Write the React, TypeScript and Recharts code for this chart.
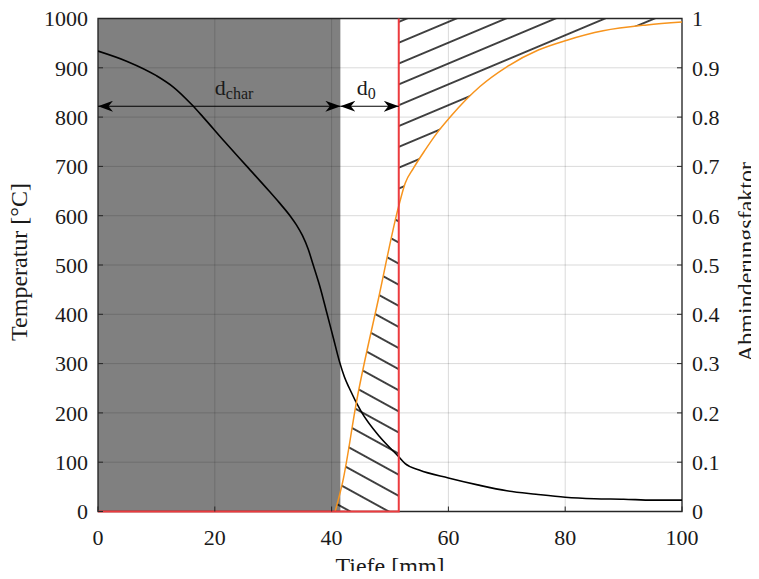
import React from 'react';
import {
  ComposedChart, Line, Area, XAxis, YAxis, CartesianGrid,
  ReferenceArea, ReferenceLine, ReferenceDot,
} from 'recharts';

// Temperature profile (left axis)
const tiefe = [0, 5, 10, 13, 16, 18, 21.7, 25.5, 29.3, 31, 33, 34, 35, 36, 36.8, 38.1, 39.2, 40.3, 41.4, 42.2, 43, 45.1, 48.2, 51.5, 52.6, 55, 60, 65, 70, 75, 80, 85, 90, 95, 100];
const temperatur = [934, 913, 884, 860, 826, 800, 750, 700, 650, 627, 598, 581, 560, 532, 502, 452, 402, 352, 302, 273, 251, 202, 152, 111, 97, 84, 68, 54, 42, 35, 29, 26, 25, 23, 23];

// Abminderungsfaktor (right axis)
const faktorTiefe = [40.6, 41.9, 44.3, 48, 51.5, 52.6, 54, 56, 58, 60.3, 63, 65.4, 70, 75.4, 80.3, 86.5, 94, 100];
const faktor = [0, 0.06, 0.225, 0.43, 0.62, 0.666, 0.696, 0.733, 0.767, 0.8, 0.835, 0.862, 0.902, 0.936, 0.956, 0.975, 0.987, 0.993];

const xTicks = [0, 20, 40, 60, 80, 100];
const tTicks = [0, 100, 200, 300, 400, 500, 600, 700, 800, 900, 1000];
const fTicks = [0, 0.1, 0.2, 0.3, 0.4, 0.5, 0.6, 0.7, 0.8, 0.9, 1];

const dChar = 41.5;
const dEnd = 51.5;
const arrowT = 822;
const labelT = 845;

const tempData = tiefe.map((x, i) => ({ x, t: temperatur[i] }));
const facData = faktorTiefe.map((x, i) => ({ x, f: faktor[i] }));
const hatchLeft = facData.filter(d => d.x <= dEnd);
const hatchRight = facData.filter(d => d.x >= dEnd).map(d => ({ x: d.x, r: [d.f, 1] }));
const redStep = [{ x: 0, f: 0 }, { x: dEnd, f: 0 }, { x: dEnd, f: 1 }];

const font = '"Liberation Serif", "Times New Roman", serif';
const ink = '#1a1a1a';
const tickStyle = { fontSize: 22, fill: ink, fontFamily: font };

const arrowShape = (p: any) => (
  <line x1={p.x1} y1={p.y1} x2={p.x2} y2={p.y2} stroke="#000" strokeWidth={1.2}
    markerStart="url(#ah)" markerEnd="url(#ah)" />
);

const subLabel = (main: string, sub: string) => (p: any) => (
  <text x={p.cx} y={p.cy} fontFamily={font} fontSize={22} fill={ink}>
    {main}
    <tspan fontSize={16} dy={4}>{sub}</tspan>
  </text>
);

const App = () => (
  <div style={{ margin: -8 }}>
    <ComposedChart width={759} height={579} margin={{ top: 18.5, right: 0, bottom: 0, left: 0 }}
      style={{ fontFamily: font }}>
      <defs>
        <marker id="ah" viewBox="0 0 15 11" refX="15" refY="5.5" markerWidth="15" markerHeight="11"
          markerUnits="userSpaceOnUse" orient="auto-start-reverse">
          <path d="M0,0 L15,5.5 L0,11 L4.5,5.5 Z" fill="#000" />
        </marker>
        <pattern id="hatchL" patternUnits="userSpaceOnUse" width="40" height="18.5" patternTransform="rotate(28.8)">
          <line x1="0" y1="2" x2="40" y2="2" stroke="#000" strokeWidth="1.5" />
        </pattern>
        <pattern id="hatchR" patternUnits="userSpaceOnUse" width="40" height="19.2" patternTransform="rotate(-22.8)">
          <line x1="0" y1="2" x2="40" y2="2" stroke="#000" strokeWidth="1.5" />
        </pattern>
      </defs>

      <CartesianGrid stroke="#000" strokeOpacity={0.15} xAxisId="bottom" yAxisId="T" />

      <XAxis xAxisId="bottom" dataKey="x" type="number" domain={[0, 100]} ticks={xTicks}
        allowDataOverflow axisLine={false} tickSize={-5} tickMargin={22.5}
        tickLine={{ stroke: '#262626' }} tick={tickStyle} height={67.5} />
      <XAxis xAxisId="top" orientation="top" dataKey="x" type="number" domain={[0, 100]} ticks={xTicks}
        axisLine={false} tickSize={-5} tick={false} tickLine={{ stroke: '#262626' }} height={0} />
      <YAxis yAxisId="T" type="number" domain={[0, 1000]} ticks={tTicks} width={98}
        axisLine={false} tickSize={-5} tickMargin={15} tickLine={{ stroke: '#262626' }} tick={tickStyle} />
      <YAxis yAxisId="f" orientation="right" type="number" domain={[0, 1]} ticks={fTicks} width={77}
        axisLine={false} tickSize={-5} tickMargin={15} tickLine={{ stroke: '#262626' }} tick={tickStyle} />

      <ReferenceArea xAxisId="bottom" yAxisId="T" x1={0} x2={dChar} y1={0} y2={1000}
        fill="#000" fillOpacity={0.498} stroke="none" />

      <Area xAxisId="bottom" yAxisId="f" data={hatchLeft} dataKey="f" type="linear"
        stroke="none" fill="url(#hatchL)" fillOpacity={1} isAnimationActive={false} />
      <Area xAxisId="bottom" yAxisId="f" data={hatchRight} dataKey="r" type="monotone"
        stroke="none" fill="url(#hatchR)" fillOpacity={1} isAnimationActive={false} />

      <ReferenceArea xAxisId="bottom" yAxisId="T" x1={0} x2={100} y1={0} y2={1000}
        fill="none" stroke="#262626" strokeWidth={1.3} ifOverflow="visible" />

      <Line xAxisId="bottom" yAxisId="T" data={tempData} dataKey="t" type="monotone"
        stroke="#000" strokeWidth={1.6} dot={false} isAnimationActive={false} />
      <Line xAxisId="bottom" yAxisId="f" data={facData} dataKey="f" type="monotone"
        stroke="#f7941d" strokeWidth={1.5} dot={false} isAnimationActive={false} />
      <Line xAxisId="bottom" yAxisId="f" data={redStep} dataKey="f" type="linear"
        stroke="#ec3b3f" strokeWidth={2} dot={false} isAnimationActive={false} />

      <ReferenceLine xAxisId="bottom" yAxisId="T" segment={[{ x: 0, y: arrowT }, { x: dChar, y: arrowT }]}
        shape={arrowShape} ifOverflow="visible" />
      <ReferenceLine xAxisId="bottom" yAxisId="T" segment={[{ x: dChar, y: arrowT }, { x: dEnd, y: arrowT }]}
        shape={arrowShape} ifOverflow="visible" />

      <ReferenceDot xAxisId="bottom" yAxisId="T" x={20} y={labelT} r={1} shape={subLabel('d', 'char')} ifOverflow="visible" />
      <ReferenceDot xAxisId="bottom" yAxisId="T" x={44.3} y={labelT} r={1} shape={subLabel('d', '0')} ifOverflow="visible" />

      {/* axis titles */}
      <text x={390} y={574} textAnchor="middle" fontFamily={font} fontSize={24} fill={ink}>Tiefe [mm]</text>
      <text x={27} y={262} transform="rotate(-90, 27, 262)" textAnchor="middle" fontFamily={font} fontSize={24} fill={ink}>Temperatur [°C]</text>
      <text x={754} y={262} transform="rotate(-90, 754, 262)" textAnchor="middle" fontFamily={font} fontSize={24} fill={ink}>Abminderungsfaktor</text>
    </ComposedChart>
  </div>
);

export default App;
